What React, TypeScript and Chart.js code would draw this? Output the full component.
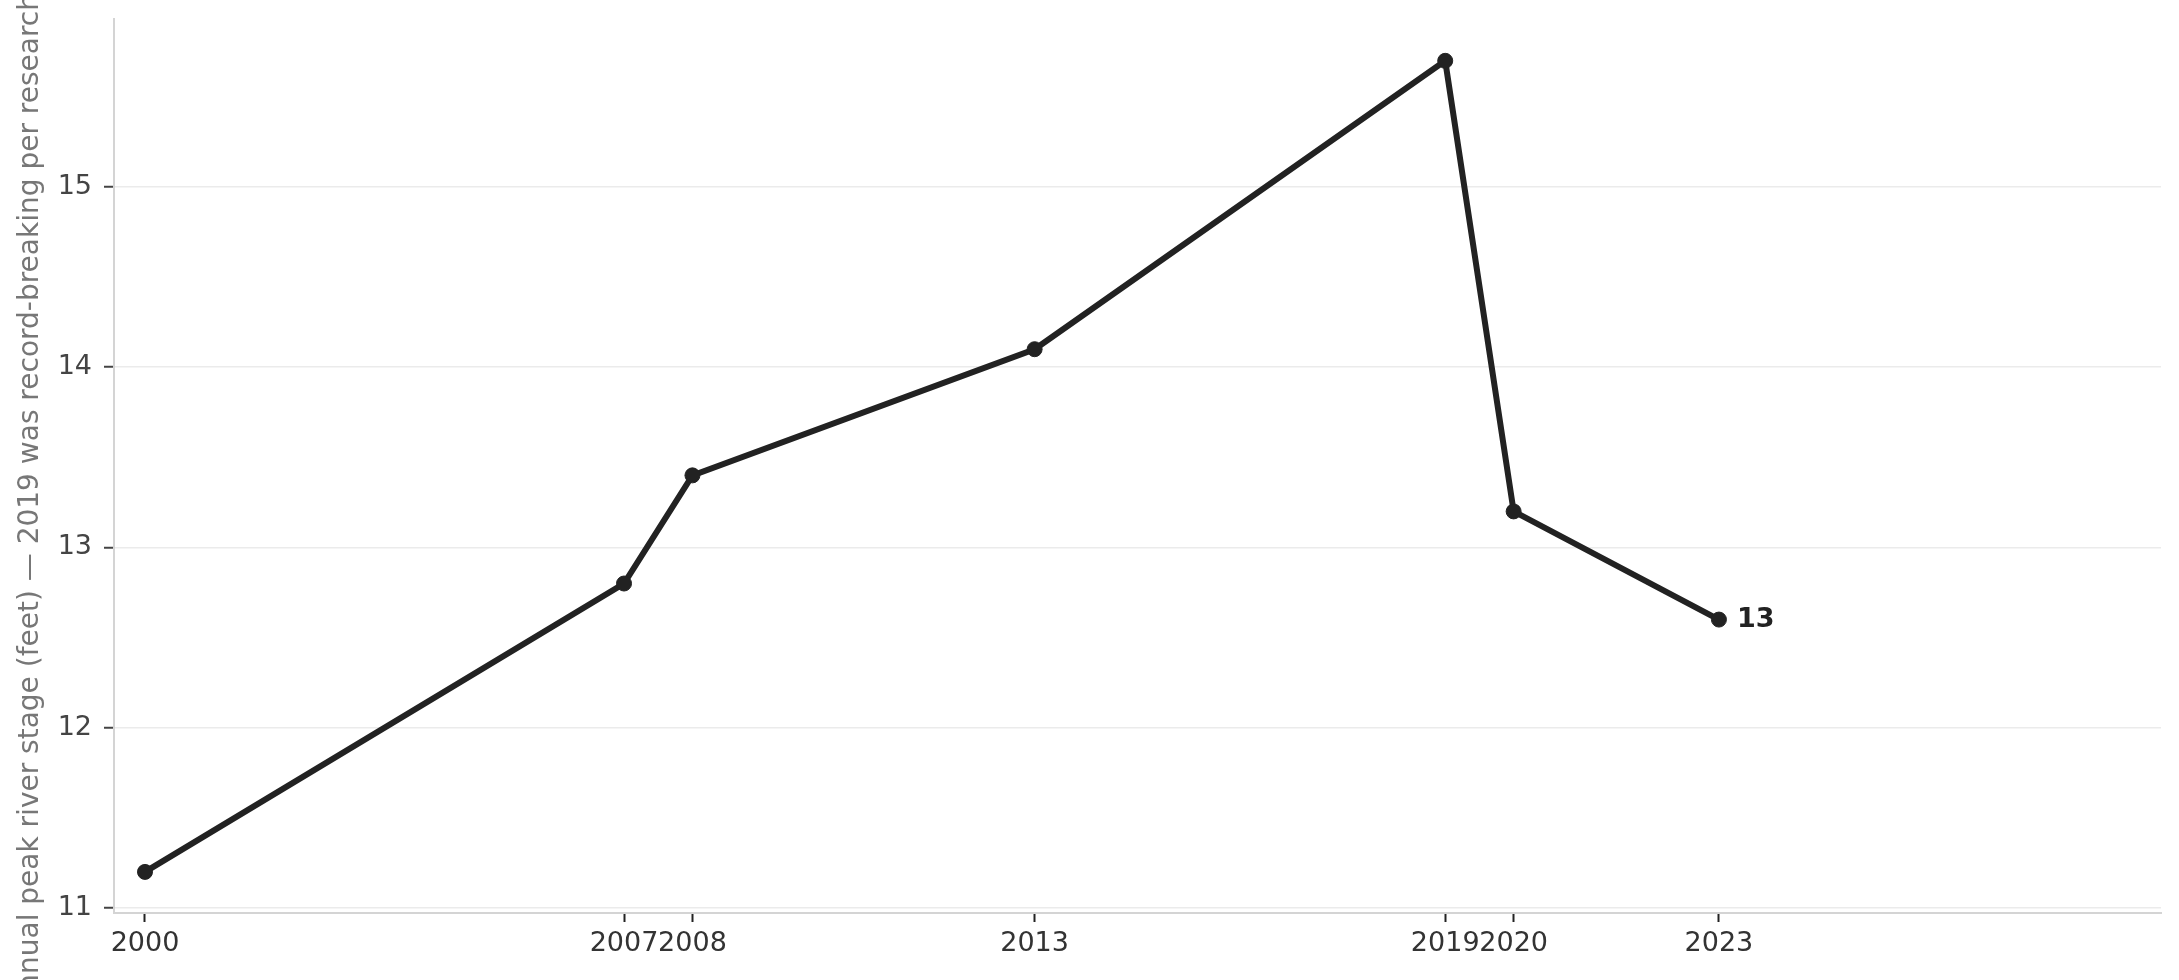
import React, { useEffect, useRef } from "react";
import { Chart, registerables } from "chart.js";

Chart.register(...registerables);

const years: number[] = [2000, 2007, 2008, 2013, 2019, 2020, 2023];
const peakStage: number[] = [11.2, 12.8, 13.4, 14.1, 15.7, 13.2, 12.6];
const yTickValues: number[] = [11, 12, 13, 14, 15];
const yAxisTitle =
  "Annual peak river stage (feet) — 2019 was record-breaking per research data";
const lastLabel = "13";

const FONT = "'DejaVu Sans', sans-serif";

const endLabelPlugin = {
  id: "endLabel",
  afterDatasetsDraw(chart: any) {
    const meta = chart.getDatasetMeta(0);
    const pt = meta.data[meta.data.length - 1];
    if (!pt) return;
    const ctx = chart.ctx;
    ctx.save();
    ctx.font = `bold 27px ${FONT}`;
    ctx.fillStyle = "#222222";
    ctx.textAlign = "left";
    ctx.textBaseline = "middle";
    ctx.fillText(lastLabel, pt.x + 18, pt.y);
    ctx.restore();
  },
};

export default function App() {
  const ref = useRef<HTMLCanvasElement | null>(null);

  useEffect(() => {
    if (!ref.current) return;
    const chart = new Chart(ref.current, {
      type: "line",
      data: {
        datasets: [
          {
            data: years.map((y, i) => ({ x: y, y: peakStage[i] })),
            borderColor: "#222222",
            backgroundColor: "#222222",
            borderWidth: 6,
            pointRadius: 7.5,
            pointBorderWidth: 1,
            pointBackgroundColor: "#222222",
            pointBorderColor: "#222222",
            tension: 0,
            fill: false,
          },
        ],
      },
      options: {
        animation: false,
        responsive: true,
        maintainAspectRatio: false,
        devicePixelRatio: 1,
        layout: { padding: { left: 0, top: 19, right: 18, bottom: 0 } },
        plugins: {
          legend: { display: false },
          tooltip: { enabled: false },
          title: { display: false },
        },
        scales: {
          x: {
            type: "linear",
            min: 1999.547,
            max: 2029.46,
            afterBuildTicks: (scale: any) => {
              scale.ticks = years.map((v) => ({ value: v }));
            },
            afterFit: (scale: any) => {
              scale.height = 67;
              scale.paddingLeft = 0;
              scale.paddingRight = 0;
            },
            grid: {
              drawOnChartArea: false,
              drawTicks: true,
              tickLength: 9,
              tickColor: "#222222",
              tickWidth: 2,
            },
            border: { display: true, color: "#d4d4d4", width: 2 },
            ticks: {
              autoSkip: false,
              maxRotation: 0,
              minRotation: 0,
              padding: 6,
              color: "#333333",
              font: { family: FONT, size: 27 },
              callback: (v: any) => String(v),
            },
          },
          y: {
            type: "linear",
            min: 10.972,
            max: 15.932,
            afterBuildTicks: (scale: any) => {
              scale.ticks = yTickValues.map((v) => ({ value: v }));
            },
            afterFit: (scale: any) => {
              scale.width = 114;
              scale.paddingTop = 0;
              scale.paddingBottom = 0;
            },
            grid: {
              color: "#ebebeb",
              lineWidth: 1.5,
              drawTicks: true,
              tickLength: 10,
              tickColor: "#444444",
              tickWidth: 2,
            },
            border: { display: true, color: "#d4d4d4", width: 2 },
            ticks: {
              padding: 12,
              color: "#444444",
              font: { family: FONT, size: 27 },
              callback: (v: any) => String(v),
            },
            title: {
              display: true,
              text: yAxisTitle,
              color: "#777777",
              font: { family: FONT, size: 28 },
              padding: { top: 14, bottom: 0 },
            },
          },
        },
      },
      plugins: [endLabelPlugin],
    });
    return () => chart.destroy();
  }, []);

  return (
    <div
      style={{
        position: "absolute",
        left: 0,
        top: 0,
        width: "2179px",
        height: "980px",
        background: "#ffffff",
      }}
    >
      <canvas ref={ref} />
    </div>
  );
}
